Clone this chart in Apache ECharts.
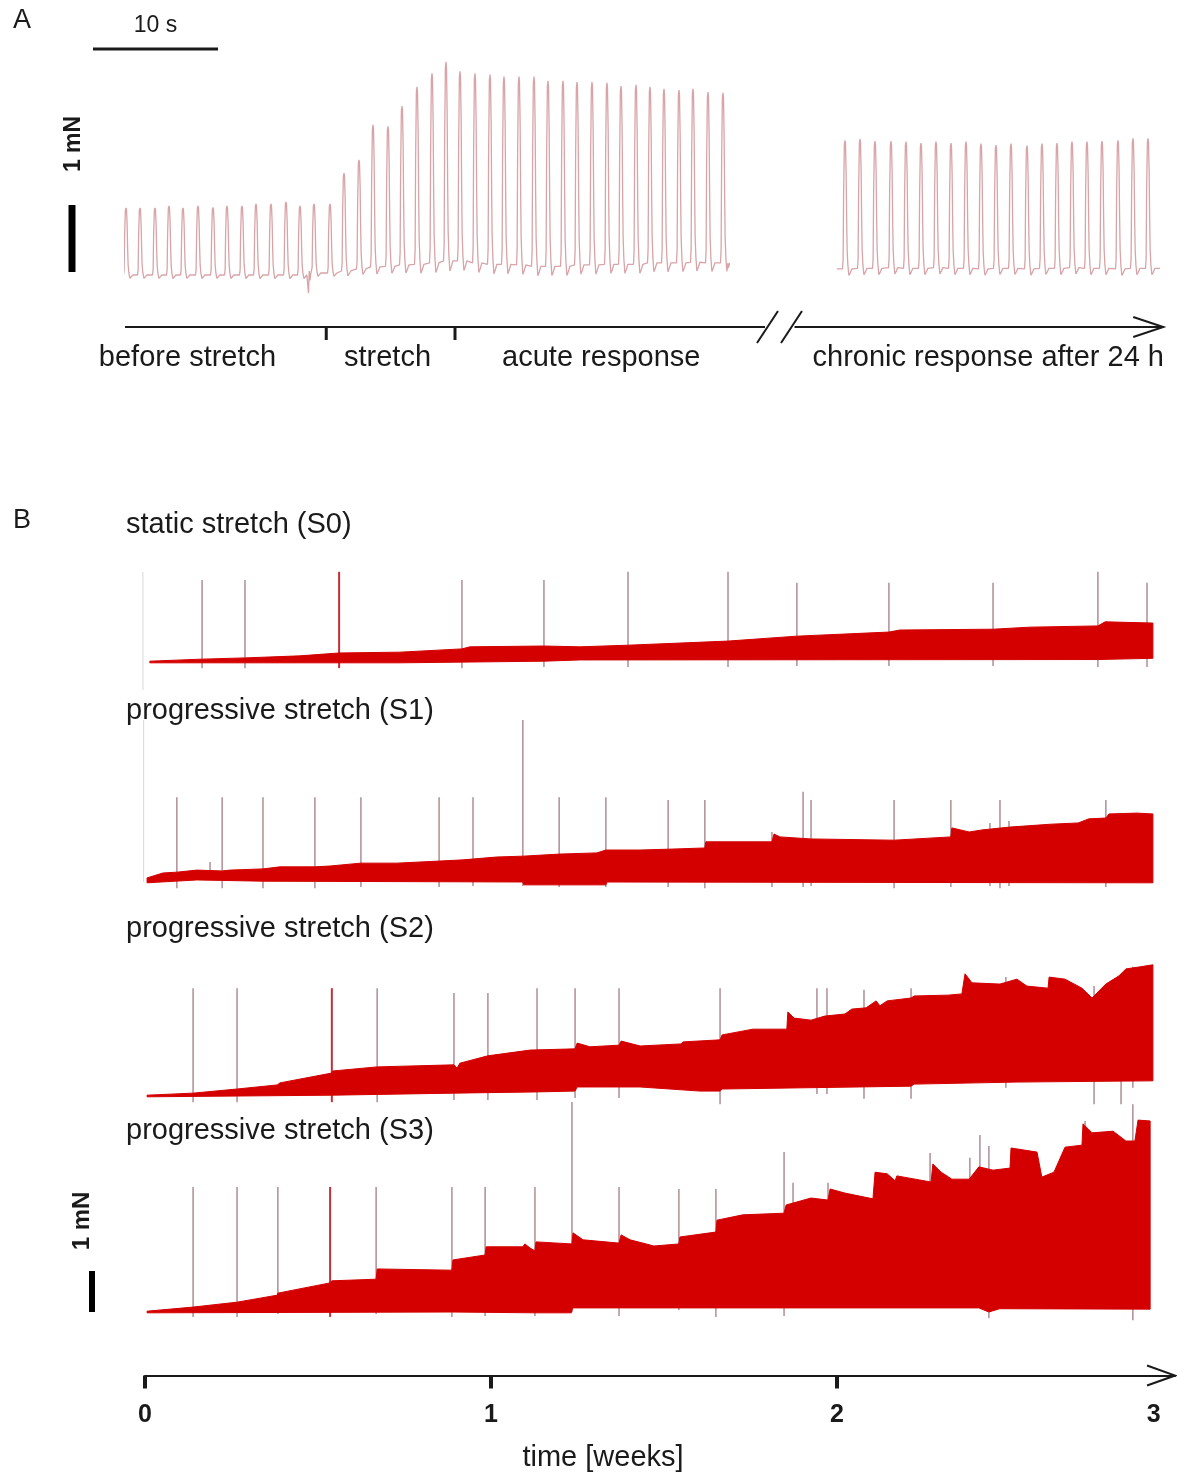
<!DOCTYPE html>
<html><head><meta charset="utf-8">
<script src="https://cdn.jsdelivr.net/npm/echarts@6/dist/echarts.min.js"></script>
<style>html,body{margin:0;padding:0;background:#fff}#c{width:1177px;height:1476px}</style>
</head><body><div id="c"></div><script>
// ================= DATA =================
// ---- Panel A: acute recording (time in s, force in mN) ----
const acuteBeatTimes = [0.08,1.2,2.4,3.52,4.64,5.84,7.04,8.16,9.36,10.48,11.68,12.88,14.0,15.12,16.4,17.52,18.72,19.84,21.04,22.16,23.36,24.56,25.68,26.8,28.0,29.2,30.32,31.52,32.72,33.84,35.04,36.16,37.36,38.56,39.68,40.88,42.0,43.12,44.32,45.44,46.64,47.84];
const acutePeaks = [1.00,1.00,1.00,1.03,1.00,1.03,1.01,1.03,1.03,1.06,1.06,1.09,1.03,1.06,1.06,1.52,1.72,2.24,2.22,2.52,2.81,3.01,3.18,3.04,3.01,2.99,2.96,2.96,2.96,2.90,2.90,2.88,2.88,2.87,2.82,2.84,2.81,2.78,2.76,2.78,2.73,2.72];
const acuteBase = [0,0,0,0,0,0,0,0,0,0,0,0,0,0.03,0.03,0.06,0.09,0.12,0.13,0.15,0.16,0.18,0.21,0.21,0.18,0.16,0.16,0.15,0.13,0.13,0.13,0.15,0.15,0.16,0.16,0.16,0.18,0.18,0.18,0.19,0.18,0.18];
const acuteGlitch = [[14.6,0.0],[14.68,-0.27],[14.74,0.06],[14.8,-0.08],[14.86,0.02]];
const acuteEnd = 48.24;
// ---- Panel A: chronic recording after 24 h ----
const chronicBeatTimes = [0.64,1.84,3.04,4.32,5.52,6.72,7.92,9.12,10.32,11.52,12.72,13.92,15.2,16.4,17.6,18.8,20.0,21.2,22.48,23.68,24.88];
const chronicPeaks = [2.01,2.03,2.0,2.0,1.99,1.97,1.99,1.97,1.99,1.96,1.94,1.96,1.93,1.96,1.97,1.99,1.99,2.0,2.01,2.04,2.04];
const chronicBase = [0.09,0.10,0.10,0.11,0.10,0.10,0.11,0.10,0.10,0.09,0.10,0.10,0.09,0.10,0.10,0.11,0.10,0.10,0.09,0.10,0.10];
const chronicEnd = 25.84;
// single twitch shape: [time offset from peak (s), fraction of twitch amplitude]
const twitchShape = [[-0.2,0],[-0.15,0.08],[-0.11,0.6],[-0.05,0.97],[0,1],[0.04,0.97],[0.09,0.75],[0.13,0.4],[0.17,0.15],[0.23,0.03],[0.31,-0.05],[0.42,-0.03],[0.55,0]];
// protocol timeline (s)
const phaseBoundaries = [16.1, 26.4];
const phaseLabels = ['before stretch','stretch','acute response'];
const phaseLabelTimes = [5.0, 21.0, 38.1];
const timelineEnd = 51.2;
const chronicLabel = 'chronic response after 24 h';
const chronicLabelTime = 12.1;
const chronicArrow = [-3.4, 26.1];

// ---- Panel B: long-term traces (time in weeks, force in mN) ----
const traceNames = ['static stretch (S0)','progressive stretch (S1)','progressive stretch (S2)','progressive stretch (S3)'];
const s0Upper = [[0.014,0.02],[0.165,0.07],[0.289,0.10],[0.448,0.15],[0.561,0.22],[0.737,0.24],[0.916,0.32],[0.939,0.37],[1.153,0.39],[1.257,0.37],[1.396,0.41],[1.685,0.51],[1.884,0.63],[2.150,0.73],[2.182,0.78],[2.451,0.80],[2.558,0.85],[2.754,0.88],[2.775,0.98],[2.913,0.95]];
const s0Lower = [[0.014,-0.02],[0.737,-0.02],[1.153,0.02],[1.257,0.05],[2.754,0.06],[2.913,0.09]];
const s0Spikes = [[0.165,-0.15,2.0],[0.289,-0.15,2.0],[0.916,-0.15,2.0],[1.153,-0.12,2.0],[1.396,-0.12,2.2],[1.685,-0.12,2.2],[1.884,-0.1,1.93],[2.150,-0.1,1.93],[2.451,-0.1,1.93],[2.754,-0.12,2.2],[2.896,-0.12,1.93]];
const s0SpikesRed = [[0.561,-0.15,2.2]];
const s0Edge = [[-0.006,-0.68,2.2]];

const s1Upper = [[0.006,0.10],[0.014,0.12],[0.052,0.22],[0.092,0.24],[0.150,0.29],[0.223,0.27],[0.246,0.29],[0.341,0.32],[0.390,0.37],[0.491,0.37],[0.535,0.39],[0.624,0.46],[0.728,0.46],[0.850,0.51],[0.919,0.54],[1.017,0.61],[1.092,0.63],[1.197,0.68],[1.306,0.71],[1.332,0.78],[1.431,0.78],[1.512,0.80],[1.618,0.83],[1.621,0.98],[1.812,0.98],[1.818,1.17],[1.835,1.10],[1.925,1.05],[2.165,1.02],[2.329,1.10],[2.332,1.32],[2.382,1.22],[2.419,1.27],[2.500,1.34],[2.618,1.41],[2.697,1.44],[2.728,1.54],[2.777,1.56],[2.786,1.66],[2.867,1.68],[2.913,1.66]];
const s1Lower = [[0.006,-0.02],[0.150,0.05],[0.341,0.02],[1.092,0.0],[1.095,-0.07],[1.332,-0.07],[1.335,0.0],[2.913,-0.02]];
const s1Spikes = [[0.092,-0.15,2.07],[0.223,-0.15,2.07],[0.341,-0.15,2.07],[0.491,-0.15,2.07],[0.624,-0.12,2.07],[0.850,-0.12,2.07],[0.948,-0.1,2.07],[1.092,-0.1,3.95],[1.197,-0.12,2.07],[1.332,-0.12,2.07],[1.512,-0.12,2.0],[1.618,-0.15,2.0],[1.812,-0.12,1.22],[1.902,-0.12,2.2],[1.925,-0.1,2.0],[2.165,-0.15,2.0],[2.329,-0.12,2.0],[2.442,-0.1,1.44],[2.471,-0.15,2.0],[2.497,-0.1,1.49],[2.777,-0.12,2.0],[0.188,0.2,0.49]];
const s1SpikesRed = [];
const s1Edge = [[-0.004,0.0,3.95]];

const s2Upper = [[0.006,0.02],[0.139,0.07],[0.266,0.17],[0.382,0.27],[0.390,0.32],[0.540,0.56],[0.543,0.61],[0.671,0.71],[0.893,0.76],[0.902,0.68],[0.910,0.80],[0.991,0.98],[1.113,1.12],[1.243,1.15],[1.249,1.29],[1.286,1.20],[1.370,1.24],[1.376,1.34],[1.431,1.22],[1.549,1.27],[1.555,1.32],[1.662,1.37],[1.668,1.49],[1.757,1.63],[1.855,1.63],[1.858,2.05],[1.876,1.90],[1.925,1.85],[1.945,1.90],[1.965,1.95],[2.023,2.0],[2.043,2.12],[2.084,2.15],[2.113,2.32],[2.124,2.20],[2.145,2.32],[2.214,2.39],[2.223,2.44],[2.321,2.46],[2.361,2.49],[2.370,2.98],[2.390,2.76],[2.471,2.73],[2.520,2.85],[2.549,2.68],[2.610,2.63],[2.613,2.90],[2.659,2.85],[2.708,2.63],[2.737,2.39],[2.777,2.73],[2.815,2.93],[2.835,3.10],[2.876,3.15],[2.913,3.20]];
const s2Lower = [[0.006,-0.02],[0.540,0.02],[0.893,0.07],[1.133,0.10],[1.243,0.12],[1.249,0.22],[1.431,0.22],[1.604,0.12],[1.662,0.12],[1.668,0.17],[2.214,0.24],[2.223,0.29],[2.520,0.34],[2.913,0.37]];
const s2Spikes = [[0.139,-0.15,2.63],[0.266,-0.15,2.63],[0.671,-0.15,2.63],[0.893,-0.1,2.51],[0.991,-0.1,2.51],[1.133,-0.1,2.63],[1.243,-0.05,2.63],[1.370,-0.05,2.63],[1.662,-0.2,2.63],[1.942,0.05,2.63],[1.971,0.05,2.63],[2.078,-0.07,2.59],[2.214,-0.07,2.63],[2.488,0.2,2.90],[2.743,-0.2,2.68],[2.821,-0.2,2.98],[2.855,0.2,3.15]];
const s2SpikesRed = [[0.540,-0.15,2.63]];
const s2Edge = [];

const s3Upper = [[0.006,0.02],[0.139,0.12],[0.266,0.24],[0.382,0.41],[0.384,0.46],[0.535,0.71],[0.540,0.76],[0.668,0.80],[0.671,1.05],[0.887,1.02],[0.890,1.27],[0.983,1.39],[0.986,1.59],[1.092,1.59],[1.098,1.66],[1.113,1.56],[1.127,1.49],[1.130,1.71],[1.234,1.66],[1.237,1.93],[1.266,1.76],[1.370,1.68],[1.376,1.88],[1.402,1.76],[1.471,1.61],[1.543,1.66],[1.546,1.83],[1.650,1.95],[1.653,2.24],[1.728,2.37],[1.847,2.41],[1.853,2.61],[1.925,2.78],[1.974,2.73],[1.980,3.0],[2.023,2.90],[2.104,2.76],[2.110,3.41],[2.145,3.37],[2.168,3.20],[2.173,3.32],[2.272,3.17],[2.277,3.61],[2.301,3.41],[2.332,3.24],[2.382,3.24],[2.410,3.54],[2.451,3.46],[2.500,3.51],[2.503,4.0],[2.578,3.90],[2.592,3.29],[2.627,3.41],[2.659,4.02],[2.708,4.07],[2.711,4.59],[2.737,4.37],[2.798,4.41],[2.835,4.17],[2.861,4.17],[2.870,4.68],[2.905,4.66]];
const s3Lower = [[0.006,-0.02],[0.887,0.0],[1.127,-0.02],[1.232,-0.02],[1.236,0.10],[2.410,0.10],[2.439,0.0],[2.470,0.08],[2.905,0.07]];
const s3Spikes = [[0.139,-0.12,3.05],[0.266,-0.12,3.05],[0.384,-0.05,3.05],[0.668,-0.05,3.05],[0.887,-0.12,3.05],[0.983,-0.1,3.05],[1.127,-0.1,3.05],[1.234,0.0,5.12],[1.370,-0.1,3.05],[1.543,0.05,3.0],[1.650,-0.12,3.0],[1.847,-0.1,3.90],[1.873,0.5,3.15],[1.974,0.5,3.15],[2.269,0.5,3.88],[2.384,0.5,3.76],[2.413,0.5,4.32],[2.439,-0.15,4.05],[2.717,0.5,4.66],[2.855,-0.2,5.07]];
const s3SpikesRed = [[0.535,-0.12,3.05]];
const s3Edge = [];

// time axis of panel B
const weekTicks = [0,1,2];
const weekLabelValues = [0,1,2,2.915];
const weekTickLabels = ['0','1','2','3'];
const weekAxisName = 'time [weeks]';

// ================= LAYOUT / STYLE =================
const FONT = '"Liberation Sans", Arial, Helvetica, sans-serif';
const INK = '#1a1a1a';
const TRACE_A = '#d8a4a8';
const BAND = '#d40000';
const SPIKE = '#b4959b';
const SPIKE_RED = '#c4303a';
const EDGE = '#d8d8d8';

const PX_PER_S = 12.5, PX_PER_MN_A = 67, ZERO_A = 275, A_MIN = -0.5, A_MAX = 3.5;
const PX_PER_WEEK = 346, PX_PER_MN_B = 41, B_LEFT = 145, WEEKS_MAX = 2.977;
const bZero = [662, 882, 1096, 1312];
const bMin = [-0.75, -0.5, -0.5, -1.55];
const bMax = [2.5, 4.5, 3.5, 5.5];

const uppers = [s0Upper, s1Upper, s2Upper, s3Upper];
const lowers = [s0Lower, s1Lower, s2Lower, s3Lower];
const spikes = [s0Spikes, s1Spikes, s2Spikes, s3Spikes];
const spikesRed = [s0SpikesRed, s1SpikesRed, s2SpikesRed, s3SpikesRed];
const edges = [s0Edge, s1Edge, s2Edge, s3Edge];

function buildTrace(times, peaks, base, extra, start, end) {
  const pts = [];
  times.forEach((t, i) => {
    const b = base[i], a = peaks[i] - b;
    twitchShape.forEach(([dt, f]) => pts.push([+(t + dt).toFixed(3), +(b + f * a).toFixed(4)]));
  });
  extra.forEach(p => pts.push(p.slice()));
  if (start) pts.push(start);
  if (end) pts.push(end);
  pts.sort((p, q) => p[0] - q[0]);
  return pts;
}
const acuteTrace = buildTrace(acuteBeatTimes, acutePeaks, acuteBase, acuteGlitch, null, [acuteEnd, acuteBase[acuteBase.length-1]]);
const chronicTrace = buildTrace(chronicBeatTimes, chronicPeaks, chronicBase, [], [0, chronicBase[0]], [chronicEnd, chronicBase[chronicBase.length-1]]);

const grids = [], xAxes = [], yAxes = [], series = [];
// panel A grids
const aTop = ZERO_A - A_MAX * PX_PER_MN_A, aH = (A_MAX - A_MIN) * PX_PER_MN_A;
grids.push({left: 125, top: aTop, width: acuteEnd * PX_PER_S, height: aH, outerBoundsMode: 'none'});
grids.push({left: 837, top: aTop, width: chronicEnd * PX_PER_S, height: aH, outerBoundsMode: 'none'});
xAxes.push({gridIndex: 0, type: 'value', min: 0, max: acuteEnd, show: false});
xAxes.push({gridIndex: 1, type: 'value', min: 0, max: chronicEnd, show: false});
yAxes.push({gridIndex: 0, type: 'value', min: A_MIN, max: A_MAX, show: false});
yAxes.push({gridIndex: 1, type: 'value', min: A_MIN, max: A_MAX, show: false});
series.push({type: 'line', xAxisIndex: 0, yAxisIndex: 0, data: acuteTrace, showSymbol: false, symbol: 'none', lineStyle: {color: TRACE_A, width: 1.3}, silent: true});
series.push({type: 'line', xAxisIndex: 1, yAxisIndex: 1, data: chronicTrace, showSymbol: false, symbol: 'none', lineStyle: {color: TRACE_A, width: 1.3}, silent: true});

// panel B grids
for (let k = 0; k < 4; k++) {
  const gi = 2 + k;
  grids.push({left: B_LEFT, top: bZero[k] - bMax[k] * PX_PER_MN_B, width: WEEKS_MAX * PX_PER_WEEK, height: (bMax[k] - bMin[k]) * PX_PER_MN_B, outerBoundsMode: 'none'});
  const last = k === 3;
  xAxes.push(last ? {
    gridIndex: gi, type: 'value', min: 0, max: WEEKS_MAX, position: 'bottom',
    axisLine: {show: true, onZero: false, lineStyle: {color: INK, width: 2}},
    axisTick: {show: true, length: 13, lineStyle: {color: INK, width: 4}, customValues: weekTicks},
    axisLabel: {show: true, customValues: weekLabelValues, margin: 27, fontSize: 25, fontWeight: 'bold', color: INK, fontFamily: FONT,
      formatter: v => { const i = weekLabelValues.indexOf(v); return i >= 0 ? weekTickLabels[i] : String(Math.round(v)); }},
    splitLine: {show: false}
  } : {gridIndex: gi, type: 'value', min: 0, max: WEEKS_MAX, show: false});
  yAxes.push({gridIndex: gi, type: 'value', min: bMin[k], max: bMax[k], show: false});
  const spikeSeries = (data, color, width) => ({
    type: 'custom', xAxisIndex: gi, yAxisIndex: gi, data: data, silent: true,
    encode: {x: 0, y: [1, 2]},
    renderItem: (params, api) => {
      const p1 = api.coord([api.value(0), api.value(1)]);
      const p2 = api.coord([api.value(0), api.value(2)]);
      return {type: 'line', shape: {x1: p1[0], y1: p1[1], x2: p2[0], y2: p2[1]}, style: {stroke: color, lineWidth: width}};
    }
  });
  if (edges[k].length) series.push(spikeSeries(edges[k], EDGE, 1));
  series.push(spikeSeries(spikes[k], SPIKE, 1.6));
  if (spikesRed[k].length) series.push(spikeSeries(spikesRed[k], SPIKE_RED, 2));
  const up = uppers[k], lo = lowers[k];
  series.push({
    type: 'custom', xAxisIndex: gi, yAxisIndex: gi, data: [[up[0][0], up[0][1]]], silent: true, z: 3,
    renderItem: (params, api) => {
      const pts = up.map(p => api.coord(p)).concat(lo.slice().reverse().map(p => api.coord(p)));
      return {type: 'polygon', shape: {points: pts}, style: {fill: BAND, stroke: BAND, lineWidth: 1, lineJoin: 'round'}};
    }
  });
}

const chart = echarts.init(document.getElementById('c'), null, {renderer: 'canvas'});
chart.setOption({animation: false, backgroundColor: '#fff', grid: grids, xAxis: xAxes, yAxis: yAxes, series: series});

// ================= ANNOTATIONS =================
const pxA = (t, v) => chart.convertToPixel({gridIndex: 0}, [t, v]);
const pxC = (t, v) => chart.convertToPixel({gridIndex: 1}, [t, v]);
const pxB = (k, w, v) => chart.convertToPixel({gridIndex: 2 + k}, [w, v]);
function txt(x, y, s, size, o = {}) {
  const al = o.align || 'left';
  return {type: 'text', x: x, y: y, rotation: o.rot || 0, z: 100,
    style: {text: s, font: (o.bold ? 'bold ' : '') + size + 'px ' + FONT, fill: INK, align: al, verticalAlign: 'middle', textAlign: al, textVerticalAlign: 'middle'}};
}
function seg(x1, y1, x2, y2, w) {
  return {type: 'line', z: 100, shape: {x1, y1, x2, y2}, style: {stroke: INK, lineWidth: w || 2}};
}
const g = [];
// panel letters
g.push(txt(22, 21, 'A', 27, {align: 'center'}));
g.push(txt(22, 521, 'B', 27, {align: 'center'}));
// 10 s scale bar
const sb0 = pxA(-2.56, 0), sb1 = pxA(7.44, 0);
g.push({type: 'rect', z: 100, shape: {x: sb0[0], y: 47.5, width: sb1[0] - sb0[0], height: 3}, style: {fill: INK}});
g.push(txt((sb0[0] + sb1[0]) / 2, 26, '10 s', 23, {align: 'center'}));
// 1 mN scale bar, panel A
const ma0 = pxA(0, 0.045), ma1 = pxA(0, 1.045);
g.push({type: 'rect', z: 100, shape: {x: 68.5, y: ma1[1], width: 7, height: ma0[1] - ma1[1]}, style: {fill: '#000'}});
g.push(txt(74, 144, '1 mN', 23, {align: 'center', bold: true, rot: Math.PI / 2}));
// protocol timeline
const TL_Y = 327;
const tl0 = pxA(0, 0)[0], tl1 = pxA(timelineEnd, 0)[0];
g.push(seg(tl0, TL_Y, tl1, TL_Y, 2));
phaseBoundaries.forEach(t => { const x = pxA(t, 0)[0]; g.push(seg(x, TL_Y, x, TL_Y + 13, 3)); });
g.push(seg(tl1 - 8, TL_Y + 16, tl1 + 13, TL_Y - 16, 2));
g.push(seg(tl1 + 16, TL_Y + 16, tl1 + 37, TL_Y - 16, 2));
const ca0 = pxC(chronicArrow[0], 0)[0], ca1 = pxC(chronicArrow[1], 0)[0];
g.push(seg(ca0, TL_Y, ca1, TL_Y, 2));
g.push({type: 'polyline', z: 100, shape: {points: [[ca1 - 30, TL_Y - 10], [ca1, TL_Y], [ca1 - 30, TL_Y + 10]]}, style: {stroke: INK, lineWidth: 2, fill: null}});
phaseLabels.forEach((s, i) => g.push(txt(pxA(phaseLabelTimes[i], 0)[0], 358, s, 29, {align: 'center'})));
g.push(txt(pxC(chronicLabelTime, 0)[0], 358, chronicLabel, 29, {align: 'center'}));
// trace titles, panel B
const titleY = [525, 711, 929, 1131];
traceNames.forEach((s, k) => g.push(txt(126, titleY[k], s, 29)));
// 1 mN scale bar, panel B
const mb0 = pxB(3, 0, 0), mb1 = pxB(3, 0, 1);
g.push({type: 'rect', z: 100, shape: {x: 89, y: mb1[1], width: 6, height: mb0[1] - mb1[1]}, style: {fill: '#000'}});
g.push(txt(82, 1221, '1 mN', 24, {align: 'center', bold: true, rot: Math.PI / 2}));
// arrow head of week axis + axis title
const ax1 = pxB(3, WEEKS_MAX, bMin[3]);
g.push({type: 'polyline', z: 100, shape: {points: [[ax1[0] - 28, ax1[1] - 10], [ax1[0], ax1[1]], [ax1[0] - 28, ax1[1] + 10]]}, style: {stroke: INK, lineWidth: 2, fill: null}});
g.push(txt(603, 1458, weekAxisName, 29, {align: 'center'}));
chart.setOption({graphic: {elements: g}});
</script></body></html>
